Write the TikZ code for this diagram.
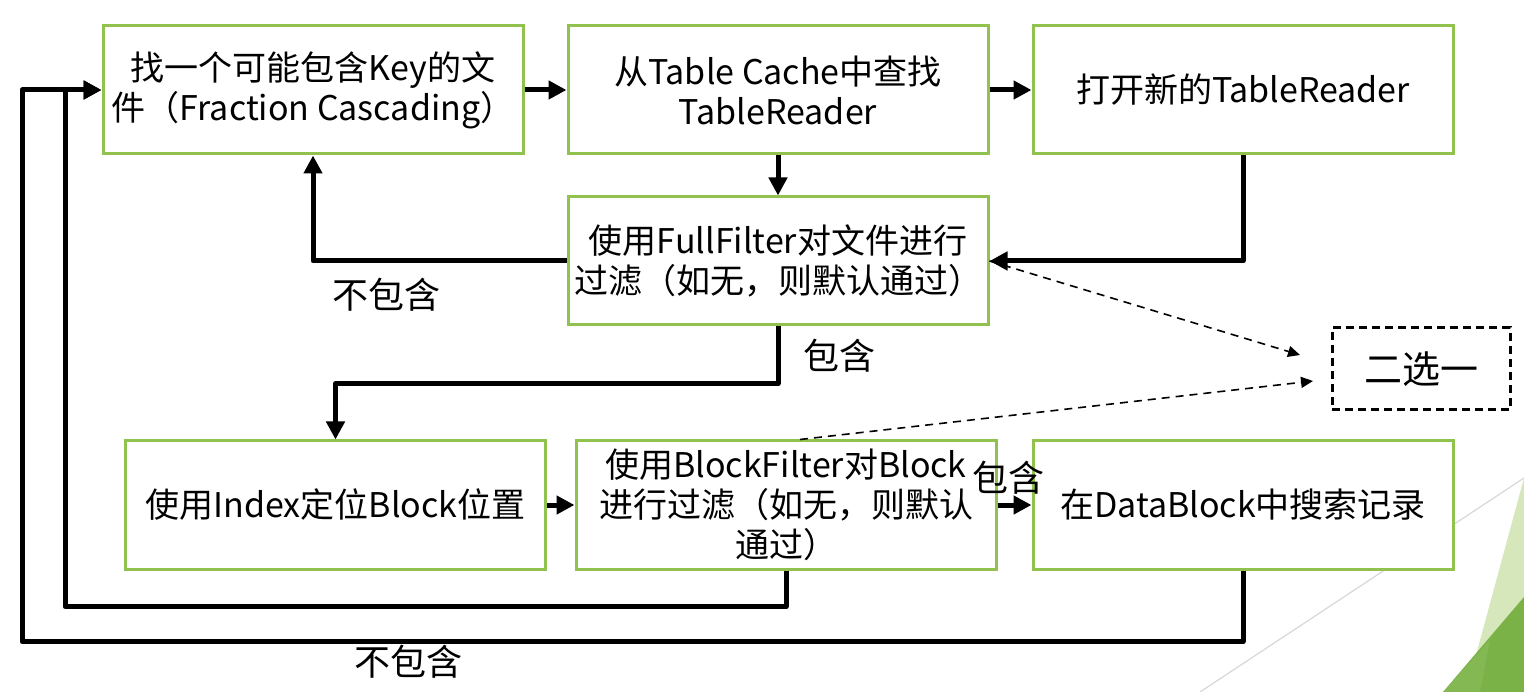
\documentclass[tikz,border=0pt]{standalone}
\usepackage{fontspec}
\setmainfont{Noto Sans CJK SC}
\usetikzlibrary{arrows.meta,calc}
\definecolor{boxgreen}{RGB}{146,194,78}
\definecolor{darkgreen}{RGB}{122,178,72}
\definecolor{midgreen}{RGB}{140,190,95}
\definecolor{lightgreen}{RGB}{214,231,188}
\definecolor{bgline}{RGB}{215,215,215}
\tikzset{
  box/.style={draw=boxgreen, line width=3pt, fill=white, minimum width=420pt, minimum height=128pt, align=center, inner sep=4pt, font=\fontsize{34}{40}\selectfont},
  choicebox/.style={draw=black, line width=3pt, dash pattern=on 8pt off 5pt, fill=white, minimum width=178pt, minimum height=82pt, font=\fontsize{38}{40}\selectfont},
  conn/.style={line width=5pt, line join=round, -{Triangle[length=18pt,width=18pt]}},
  dasharrow/.style={line width=1.6pt, dash pattern=on 8pt off 6pt, -{Triangle[length=12pt,width=11pt]}},
  lbl/.style={font=\fontsize{36}{40}\selectfont, inner sep=0pt},
}
\begin{document}
\begin{tikzpicture}[x=1pt,y=-1pt]
\useasboundingbox (0,0) rectangle (1524,692);
% background decoration
\draw[bgline, line width=1.2pt] (1200,692) -- (1524,478);
\fill[lightgreen] (1524,478) -- (1466,692) -- (1524,692) -- cycle;
\fill[darkgreen] (1443,692) -- (1524,597) -- (1524,692) -- cycle;
\fill[midgreen, opacity=0.5] (1443,692) -- (1490,640) -- (1480,692) -- cycle;

% nodes
\node[box] (A) at (313,90) {找一个可能包含Key的文\\件（Fraction Cascading）};
\node[box] (B) at (778,90) {从Table Cache中查找\\TableReader};
\node[box] (C) at (1243,90) {打开新的TableReader};
\node[box] (D) at (778,261) {使用FullFilter对文件进行\\过滤（如无，则默认通过）};
\node[box] (E) at (335.5,505) {使用Index定位Block位置};
\node[box] (F) at (786,505) {使用BlockFilter对Block\\进行过滤（如无，则默认\\通过）};
\node[box] (G) at (1243,505) {在DataBlock中搜索记录};
\node[choicebox] (H) at (1421,369) {二选一};

\coordinate (j1) at (65,90);
\coordinate (j2) at (22,90);
\coordinate (d1) at (1300,355);
\coordinate (d2) at (1313,381);

% connectors
\draw[conn] (A.east) -- (B.west);
\draw[conn] (B.east) -- (C.west);
\draw[conn] (B.south) -- (D.north);
\draw[conn] (C.south) |- (D.east);
\draw[conn] (D.west) -| (A.south);
\draw[conn] (D.south) -- ++(0,57) -| (E.north);
\draw[conn] (E.east) -- (F.west);
\draw[conn] (F.east) -- (G.west);
\draw[conn] (F.south) -- ++(0,36) -| (j1) -- (A.west);
\draw[conn] (G.south) -- ++(0,71) -| (j2) -- (A.west);

\draw[dasharrow] (D.east) -- (d1);
\draw[dasharrow] ($(F.north)+(14,0)$) -- (d2);

% labels
\node[lbl] (l1) at (386,295) {不包含};
\node[lbl] (l2) at (839,356) {包含};
\node[lbl] (l3) at (1008,478) {包含};
\node[lbl] (l4) at (408,662) {不包含};
\end{tikzpicture}
\end{document}
